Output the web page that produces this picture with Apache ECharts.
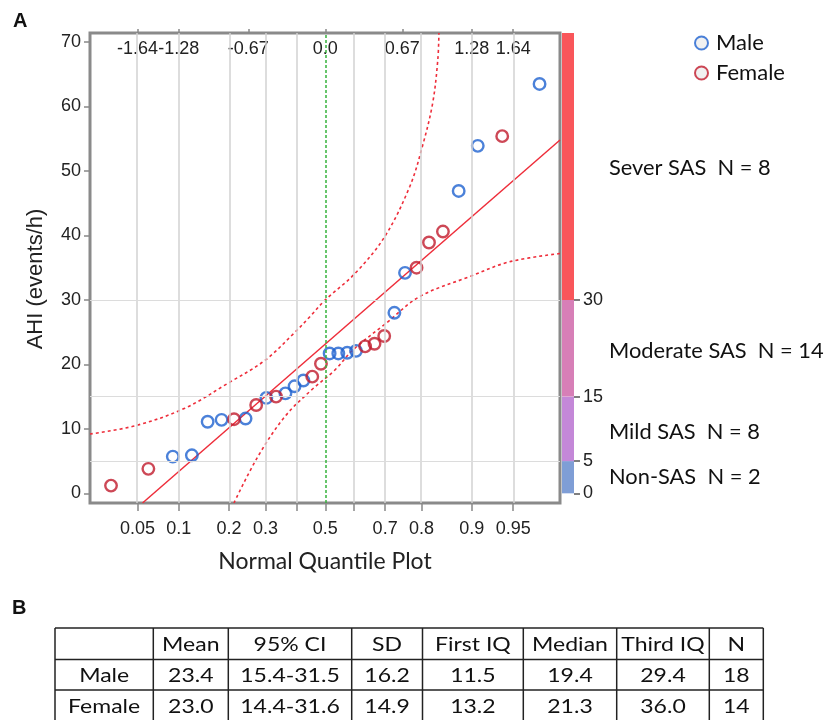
<!DOCTYPE html>
<html><head><meta charset="utf-8">
<script src="https://cdn.jsdelivr.net/npm/echarts@6/dist/echarts.min.js"></script>
<style>html,body{margin:0;padding:0;background:#fff}#c{width:829px;height:720px}</style>
</head><body><div id="c"></div>
<script>
// ---------- data ----------
const quantileZ = [-1.876,-1.549,-1.335,-1.168,-1.030,-0.908,-0.799,-0.698,-0.605,-0.516,-0.431,-0.349,-0.269,-0.192,-0.114,-0.038,
                   0.038,0.114,0.192,0.269,0.349,0.431,0.516,0.605,0.698,0.799,0.908,1.030,1.168,1.335,1.549,1.876];
const ahi = [1.2,3.8,5.7,5.9,11.1,11.4,11.5,11.6,13.7,14.8,15.0,15.5,16.6,17.5,18.1,20.1,
             21.7,21.7,21.8,22.1,22.8,23.2,24.4,28.0,34.2,35.0,38.9,40.6,46.9,53.9,55.4,63.5];
const sex = ['F','F','M','M','M','M','F','M','F','M','F','M','M','M','F','F',
             'M','M','M','M','F','F','F','M','M','F','F','F','M','M','F','M'];
const fitLine = [[-1.6,-1.5],[2.055,54.8]];
const upperBand = [[-2.06,9.2],[-1.66,10.5],[-1.23,13.2],[-0.85,17.1],[-0.53,20.6],[-0.27,24.9],[-0.135,27.4],[0,30.0],
                   [0.26,34.1],[0.52,39.8],[0.74,47.6],[0.85,53.8],[0.94,60.5],[0.985,67.2],[0.995,71.4]];
const lowerBand = [[-0.80,-1.5],[-0.59,5.7],[-0.354,11.9],[-0.12,16.05],[0.083,19.1],[0.243,22.25],[0.534,26.4],
                   [0.825,30.5],[1.262,33.6],[1.611,35.9],[2.055,37.2]];
const probZ = [-1.645,-1.282,-0.842,-0.524,0,0.524,0.842,1.282,1.645];
const probLabels = ['0.05','0.1','0.2','0.3','0.5','0.7','0.8','0.9','0.95'];
const gridZ = [-1.645,-1.282,-0.842,-0.524,-0.253,0.253,0.524,0.842,1.282,1.645];
const tickZ = [-1.645,-1.282,-0.842,-0.524,-0.253,0,0.253,0.524,0.842,1.282,1.645];
const topZ = [-1.645,-1.282,-0.674,0,0.674,1.282,1.645];
const topLabels = ['-1.64','-1.28','-0.67','0.0','0.67','1.28','1.64'];
const yTicks = [0,10,20,30,40,50,60,70];
const hGrid = [5,15,30];
const sasThresholds = [0,5,15,30];
const sasTop = 71.4;
const sasNames = ['Non-SAS  N = 2','Mild SAS  N = 8','Moderate SAS  N = 14','Sever SAS  N = 8'];
const tableHeader = ['','Mean','95% CI','SD','First IQ','Median','Third IQ','N'];
const maleRow = ['Male','23.4','15.4-31.5','16.2','11.5','19.4','29.4','18'];
const femaleRow = ['Female','23.0','14.4-31.6','14.9','13.2','21.3','36.0','14'];

// ---------- styles / layout ----------
const NUM_FONT = '"Liberation Sans", Arial, sans-serif';
const TXT_FONT = 'Lato, sans-serif';
const XMIN = -2.06, XMAX = 2.055, YMIN = -1.5, YMAX = sasTop;
const BLUE = '#1e62d0', RED = '#c01a2c', LINE_RED = '#ee2d3a';
const sasColors = ['#7f9ed6','#c488d8','#d77fb7','#f9565a'];
const sasLabelY = [477, 432, 351, 168];
const colX = [55,153.3,228.3,351.7,422.5,523.3,616.7,709.3,763.3];
const rowY = [628,659.5,690,721];

function lookup(vals, labels){ return v => { const i = vals.findIndex(z => Math.abs(z - v) < 1e-6); return i >= 0 ? labels[i] : ''; }; }

const maleData = [], femaleData = [];
quantileZ.forEach((z,i) => (sex[i]==='M' ? maleData : femaleData).push([z, ahi[i]]));

const segs = sasThresholds.map((t,i) => (i < sasThresholds.length-1 ? sasThresholds[i+1] : sasTop) - t);

const graphics = [];
graphics.push({type:'text', x:13, y:21, style:{text:'A', font:'bold 20px "Liberation Sans", Arial', fill:'#111', align:'left', verticalAlign:'middle', textAlign:'left', textVerticalAlign:'middle'}});
graphics.push({type:'text', x:12, y:608, style:{text:'B', font:'bold 20px "Liberation Sans", Arial', fill:'#111', align:'left', verticalAlign:'middle', textAlign:'left', textVerticalAlign:'middle'}});
graphics.push({type:'text', x:36, y:279, rotation:Math.PI/2, style:{text:'AHI (events/h)', font:'22px "Liberation Sans", Arial', fill:'#222', align:'center', verticalAlign:'middle', textAlign:'center', textVerticalAlign:'middle'}});
sasNames.forEach((t,i) => graphics.push({type:'text', x:609, y:sasLabelY[i], scaleX:1.04,
  style:{text:t, font:'21px Lato', fill:'#111', align:'left', verticalAlign:'middle', textAlign:'left', textVerticalAlign:'middle'}}));
// table
rowY.forEach(y => graphics.push({type:'line', shape:{x1:colX[0], y1:y, x2:colX[colX.length-1], y2:y}, style:{stroke:'#222', lineWidth:1.5}}));
colX.forEach(x => graphics.push({type:'line', shape:{x1:x, y1:rowY[0], x2:x, y2:rowY[rowY.length-1]}, style:{stroke:'#222', lineWidth:1.5}}));
[tableHeader, maleRow, femaleRow].forEach((row, r) => row.forEach((t, c) => {
  if (!t) return;
  graphics.push({type:'text', x:(colX[c]+colX[c+1])/2, y:(rowY[r]+rowY[r+1])/2+1, scaleX:1.18,
    style:{text:t, font:'19.5px Lato', fill:'#111', align:'center', verticalAlign:'middle', textAlign:'center', textVerticalAlign:'middle'}});
}));

const chart = echarts.init(document.getElementById('c'), null, {renderer:'canvas'});
chart.setOption({
  animation:false,
  backgroundColor:'#fff',
  grid:[{left:90, top:33, width:470, height:470, show:true, borderColor:'#8a8a8a', borderWidth:3, backgroundColor:'transparent'},
        {left:562, top:33, width:12, height:470}],
  legend:{data:['Male','Female'], orient:'vertical', left:689, top:27, itemWidth:13, itemHeight:13, itemGap:8,
    itemStyle:{color:'#eeeeee', borderWidth:2},
    textStyle:{fontFamily:TXT_FONT, fontSize:22, color:'#111', padding:[0,0,0,3]}},
  xAxis:[
    {gridIndex:0, type:'value', min:XMIN, max:XMAX, position:'bottom', axisLine:{show:false, onZero:false}, splitLine:{show:false},
     axisTick:{show:true, customValues:tickZ, length:8, lineStyle:{color:'#888', width:1.5}},
     axisLabel:{customValues:probZ, formatter:lookup(probZ, probLabels), fontSize:18, fontFamily:NUM_FONT, color:'#222', margin:17},
     name:'Normal Quantile Plot', nameLocation:'middle', nameGap:47, nameTextStyle:{fontFamily:TXT_FONT, fontSize:23, color:'#222'}},
    {gridIndex:0, type:'value', min:XMIN, max:XMAX, position:'top', axisLine:{show:false, onZero:false}, splitLine:{show:false},
     axisTick:{show:true, customValues:topZ, length:4, lineStyle:{color:'#888', width:1.5}},
     axisLabel:{inside:true, customValues:topZ, formatter:lookup(topZ, topLabels), fontSize:18, fontFamily:NUM_FONT, color:'#222', margin:7}},
    {gridIndex:1, type:'category', data:['SAS'], show:false}
  ],
  yAxis:[
    {gridIndex:0, type:'value', min:YMIN, max:YMAX, axisLine:{show:false, onZero:false}, splitLine:{show:false},
     axisTick:{show:true, customValues:yTicks, length:6, lineStyle:{color:'#888', width:1.5}},
     axisLabel:{customValues:yTicks, fontSize:18, fontFamily:NUM_FONT, color:'#222', margin:9}},
    {gridIndex:1, type:'value', position:'right', min:YMIN, max:YMAX, axisLine:{show:false, onZero:false}, splitLine:{show:false},
     axisTick:{show:true, customValues:sasThresholds, length:6, lineStyle:{color:'#555', width:1.5}},
     axisLabel:{customValues:sasThresholds, fontSize:18, fontFamily:NUM_FONT, color:'#222', margin:9}}
  ],
  graphic:graphics,
  series:[
    {name:'grid', type:'line', xAxisIndex:0, yAxisIndex:0, data:[[0,20]], showSymbol:false, lineStyle:{opacity:0}, z:1, silent:true,
     markLine:{silent:true, symbol:'none', label:{show:false}, animation:false,
       data:[...gridZ.map(z => ({xAxis:z, lineStyle:{color:'#d2d2d2', width:1.5, type:'solid'}})),
             ...hGrid.map(v => ({yAxis:v, lineStyle:{color:'#dcdcdc', width:1.2, type:'solid'}})),
             {xAxis:0, lineStyle:{color:'#36b33c', width:1.5, type:[3,2]}}]}},
    {name:'upper', type:'line', data:upperBand, smooth:0.35, showSymbol:false, z:2, silent:true,
     lineStyle:{color:LINE_RED, width:1.6, type:[3,3]}},
    {name:'lower', type:'line', data:lowerBand, smooth:0.35, showSymbol:false, z:2, silent:true,
     lineStyle:{color:LINE_RED, width:1.6, type:[3,3]}},
    {name:'fit', type:'line', data:fitLine, showSymbol:false, z:2, silent:true, lineStyle:{color:LINE_RED, width:1.5}},
    {name:'Male', type:'scatter', data:maleData, symbol:'circle', symbolSize:11.5, z:3,
     itemStyle:{color:'rgba(255,255,255,0)', borderColor:BLUE, borderWidth:2.4}},
    {name:'Female', type:'scatter', data:femaleData, symbol:'circle', symbolSize:11.5, z:3,
     itemStyle:{color:'rgba(255,255,255,0)', borderColor:RED, borderWidth:2.4}},
    ...segs.map((s,i) => ({name:sasNames[i], type:'bar', xAxisIndex:2, yAxisIndex:1, stack:'sas', barWidth:'100%',
      data:[s], itemStyle:{color:sasColors[i]}, silent:true}))
  ]
});
</script></body></html>
